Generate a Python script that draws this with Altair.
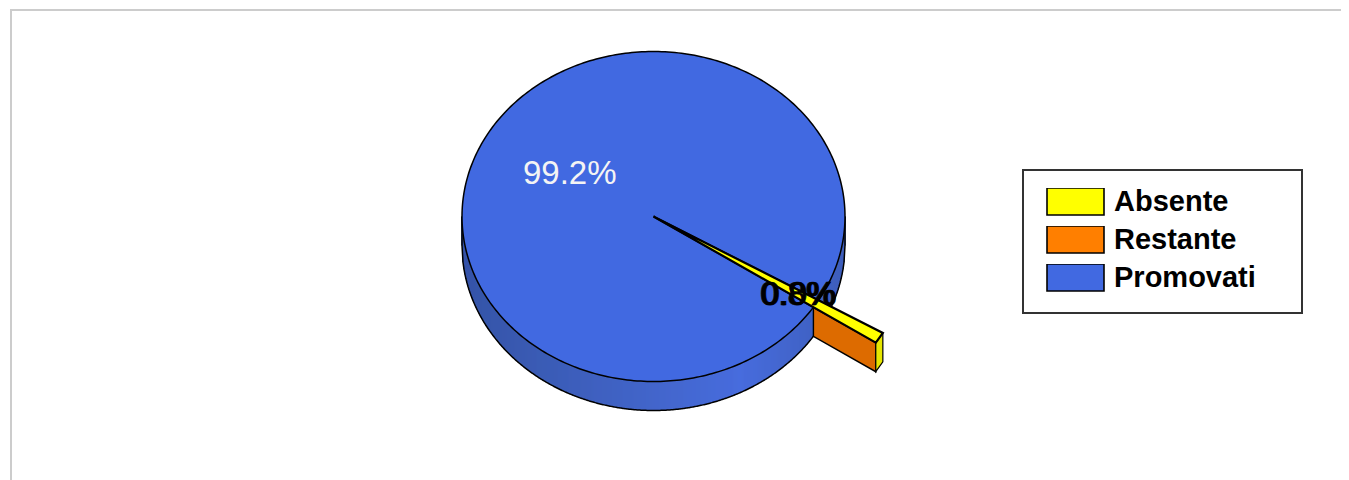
import altair as alt
import numpy as np
import pandas as pd

# values
categories = ["Absente", "Restante", "Promovati"]
shares = [0.8, 0.0, 99.2]
colors = ["#FFFF00", "#FF7F00", "#4169E1"]
label_texts = ["0.8%", "0.0%", "99.2%"]

# pie geometry, in page pixels (the scales below map page pixels 1:1)
CX, CY, RX, RY, DEPTH = 653.5, 216.5, 191.5, 165.0, 29.0
EXPLODE = 1.39
START = 30.5  # parameter angle at which the first slice starts
W, H = 1333, 472


def rim(t, k=1.0):
    r = np.radians(t)
    return CX + k * RX * np.cos(r), CY + k * RY * np.sin(r)


def polygon(name, pts):
    pts = list(pts) + [pts[0]]
    return [{"cat": name, "i": i, "x": float(p[0]), "y": float(p[1])} for i, p in enumerate(pts)]


# slice angles from the shares
a_start = START
a_abs_end = a_start + shares[0] * 3.6
a_res_end = a_abs_end + shares[1] * 3.6
a_pro_end = a_res_end + shares[2] * 3.6

tops = []
tops += polygon("Promovati", [(CX, CY)] + [rim(t) for t in np.linspace(a_res_end, a_pro_end, 361)])
tops += polygon("Absente", [(CX, CY)] + [rim(t, EXPLODE) for t in np.linspace(a_start, a_abs_end, 4)])
tops_df = pd.DataFrame(tops)

X = alt.X("x:Q", scale=alt.Scale(domain=[8, 8 + W], nice=False, zero=False), axis=None)
Y = alt.Y("y:Q", scale=alt.Scale(domain=[8 + H, 8], nice=False, zero=False), axis=None)
fill_scale = alt.Scale(domain=categories, range=colors)

# side wall of the big slice, shaded across its width
ts = np.degrees(np.arccos(np.linspace(-1, 1, 384)))
wall_df = pd.DataFrame({
    "x": [rim(t)[0] for t in ts],
    "y": [rim(t)[1] for t in ts],
    "y2": [rim(t)[1] + DEPTH for t in ts],
})
wall = alt.Chart(wall_df).mark_rule(strokeWidth=1.6).encode(
    x=X, y=Y, y2="y2:Q",
    stroke=alt.Stroke(
        "x:Q",
        scale=alt.Scale(
            domain=[462, 520, 640, 740, 845],
            range=["#2C4CA4", "#3153AE", "#3A5EC6", "#4066DC", "#3557B8"],
            zero=False, nice=False,
        ),
        legend=None,
    ),
)
w_sorted = wall_df.sort_values("x", ascending=False).reset_index(drop=True)
rim_rows = [{"x": w_sorted.x.iloc[0], "y": w_sorted.y.iloc[0], "i": -1}] + [
    {"x": r.x, "y": r.y2, "i": r.Index} for r in w_sorted.itertuples()
] + [{"x": w_sorted.x.iloc[-1], "y": w_sorted.y.iloc[-1], "i": len(w_sorted)}]
rim_line = alt.Chart(pd.DataFrame(rim_rows)).mark_line(color="black", strokeWidth=1.5).encode(
    x=X, y=Y, order="i:Q"
)

# walls of the exploded slices
res_in = rim(a_res_end)
res_out = rim(a_res_end, EXPLODE)
orange_df = pd.DataFrame(polygon("Restante", [
    res_in, res_out, (res_out[0], res_out[1] + DEPTH), (res_in[0], res_in[1] + DEPTH)
]))
orange = alt.Chart(orange_df).mark_line(
    fill="#DD6B00", stroke="black", strokeWidth=1.4
).encode(x=X, y=Y, order="i:Q")

abs_a = rim(a_start, EXPLODE)
abs_b = rim(a_abs_end, EXPLODE)
side_df = pd.DataFrame(polygon("Absente", [
    abs_a, abs_b, (abs_b[0], abs_b[1] + DEPTH), (abs_a[0], abs_a[1] + DEPTH)
]))
side = alt.Chart(side_df).mark_line(
    fill="#E6E600", stroke="black", strokeWidth=1.2
).encode(x=X, y=Y, order="i:Q")

# top faces, carrying the legend
legend = alt.Legend(
    title=None,
    orient="none",
    legendX=1038,
    legendY=180,
    padding=0,
    symbolType="M-1,-0.474H1V0.474H-1Z",
    symbolSize=3249,
    symbolStrokeColor="black",
    symbolStrokeWidth=1.6,
    symbolOpacity=1,
    clipHeight=27,
    rowPadding=8,
    labelOffset=9,
    labelFont="Liberation Sans",
    labelFontSize=29,
    labelFontWeight="bold",
    labelColor="black",
    labelLimit=300,
)
top_promo = alt.Chart(tops_df[tops_df.cat == "Promovati"]).mark_line(
    stroke="black", strokeWidth=1.5
).encode(
    x=X, y=Y, order="i:Q",
    fill=alt.Fill("cat:N", scale=fill_scale, legend=legend),
)
top_abs = alt.Chart(tops_df[tops_df.cat == "Absente"]).mark_line(
    stroke="black", strokeWidth=2.2
).encode(
    x=X, y=Y, order="i:Q",
    fill=alt.Fill("cat:N", scale=fill_scale, legend=legend),
)

# percentage labels
labels_df = pd.DataFrame({
    "text": label_texts,
    "x": [760.0, 761.5, 523.0],
    "y": [305.0, 305.0, 184.0],
})
labels_small = alt.Chart(labels_df.iloc[:2]).mark_text(
    align="left", baseline="alphabetic", font="Liberation Sans", fontSize=33,
    color="black", stroke="black", strokeWidth=0.7,
).encode(x=X, y=Y, text="text:N")
labels_big = alt.Chart(labels_df.iloc[2:]).mark_text(
    align="left", baseline="alphabetic", font="Liberation Sans", fontSize=33,
    color="#F4F4F4",
).encode(x=X, y=Y, text="text:N")

# legend frame and page frame
legend_box = alt.Chart(pd.DataFrame({"a": [0]})).mark_rect(
    fill="white", stroke="#333333", strokeWidth=2
).encode(
    x=alt.value(1015), x2=alt.value(1294), y=alt.value(162), y2=alt.value(305)
)
frame_top = alt.Chart(pd.DataFrame({"a": [0]})).mark_rule(color="#CCCCCC", strokeWidth=2).encode(
    x=alt.value(2), x2=alt.value(W), y=alt.value(2)
)
frame_left = alt.Chart(pd.DataFrame({"a": [0]})).mark_rule(color="#CCCCCC", strokeWidth=2).encode(
    x=alt.value(3), y=alt.value(2), y2=alt.value(H)
)

chart = alt.layer(
    frame_top, frame_left, legend_box, wall, rim_line, orange, side,
    top_promo, top_abs, labels_small, labels_big,
).resolve_scale(stroke="independent").properties(
    width=W, height=H, padding=0, autosize="none",
).configure_view(stroke=None)

chart.save("out.html", embed_options={"renderer": "svg", "actions": False})
